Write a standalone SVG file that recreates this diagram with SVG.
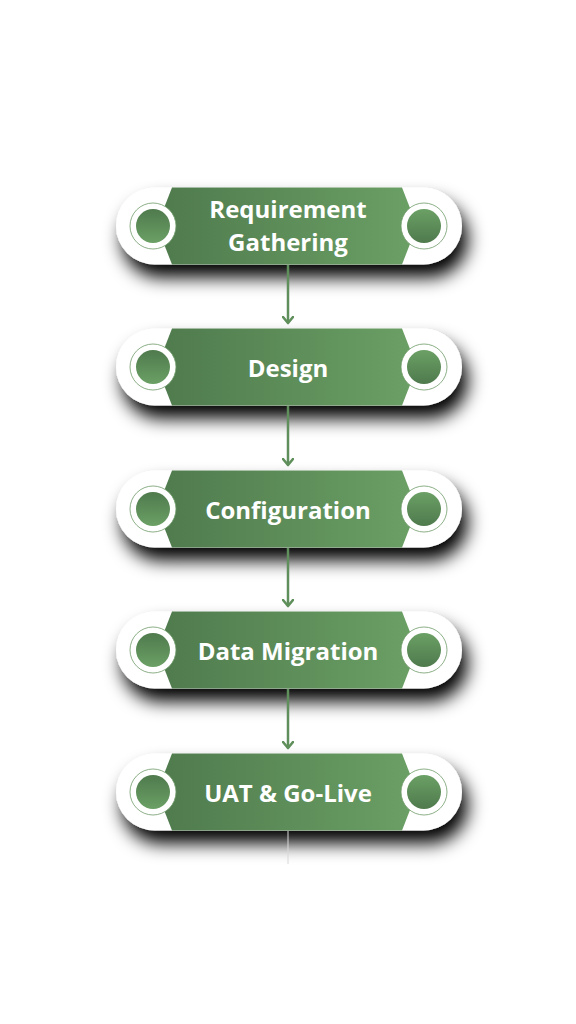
<svg xmlns="http://www.w3.org/2000/svg" width="576" height="1024" viewBox="0 0 576 1024">
<defs>
<linearGradient id="gBar" x1="0" y1="0" x2="1" y2="0">
<stop offset="0" stop-color="#4f7a4d"/>
<stop offset="1" stop-color="#6ba065"/>
</linearGradient>
<linearGradient id="gDiskL" x1="0" y1="0" x2="0" y2="1">
<stop offset="0" stop-color="#4f7a4d"/>
<stop offset="1" stop-color="#6ba065"/>
</linearGradient>
<linearGradient id="gDiskR" x1="0" y1="0" x2="0" y2="1">
<stop offset="0" stop-color="#6ba065"/>
<stop offset="1" stop-color="#4f7a4d"/>
</linearGradient>
<filter id="shadow" x="-20%" y="-50%" width="150%" height="220%">
<feGaussianBlur in="SourceAlpha" stdDeviation="9"/>
<feOffset dx="6" dy="13" result="b"/>
<feFlood flood-color="#000" flood-opacity="1"/>
<feComposite in2="b" operator="in"/>
<feMerge><feMergeNode/><feMergeNode in="SourceGraphic"/></feMerge>
</filter>
<marker id="arrow" viewBox="0 0 10 12" refX="7.5" refY="6" markerWidth="10" markerHeight="12" markerUnits="userSpaceOnUse" orient="auto">
<path d="M1.5,1 L7.5,6 L1.5,11" fill="none" stroke="#5f8f5b" stroke-width="2.6" stroke-linecap="round" stroke-linejoin="round"/>
</marker>
<g id="pill">
<rect x="116" y="-38.5" width="346" height="77" rx="38.5" fill="#fff" filter="url(#shadow)"/>
<polygon points="172,-38.5 402,-38.5 417,0 402,38.5 172,38.5 157,0" fill="url(#gBar)"/>
<circle cx="153" cy="0" r="23" fill="#fff" stroke="#6e9a68" stroke-width="0.8"/>
<circle cx="153" cy="0" r="17" fill="url(#gDiskL)"/>
<circle cx="424" cy="0" r="23" fill="#fff" stroke="#6e9a68" stroke-width="0.8"/>
<circle cx="424" cy="0" r="17" fill="url(#gDiskR)"/>
</g>
</defs>
<style>
.lbl{font-family:"Open Sans","Liberation Sans",sans-serif;font-weight:700;font-size:24px;fill:#fff;text-anchor:middle}
.conn{stroke:#5f8f5b;stroke-width:2.5;fill:none}
</style>
<rect width="576" height="1024" fill="#fff"/>
<g id="node1" transform="translate(0,226)">
<use href="#pill"/>
<text class="lbl" x="288" y="-8">Requirement</text>
<text class="lbl" x="288" y="25">Gathering</text>
</g>
<g id="node2" transform="translate(0,367)">
<use href="#pill"/>
<text class="lbl" x="288" y="10">Design</text>
</g>
<g id="node3" transform="translate(0,509)">
<use href="#pill"/>
<text class="lbl" x="288" y="10">Configuration</text>
</g>
<g id="node4" transform="translate(0,650)">
<use href="#pill"/>
<text class="lbl" x="288" y="10">Data Migration</text>
</g>
<g id="node5" transform="translate(0,792)">
<use href="#pill"/>
<text class="lbl" x="288" y="10">UAT &amp; Go-Live</text>
</g>
<g id="connectors">
<line class="conn" x1="288" y1="265" x2="288" y2="323" marker-end="url(#arrow)"/>
<line class="conn" x1="288" y1="406" x2="288" y2="465" marker-end="url(#arrow)"/>
<line class="conn" x1="288" y1="548" x2="288" y2="606" marker-end="url(#arrow)"/>
<line class="conn" x1="288" y1="689" x2="288" y2="748" marker-end="url(#arrow)"/>
<line x1="288" y1="831" x2="288" y2="864" stroke="#d8d8d8" stroke-width="1"/>
</g>
</svg>
